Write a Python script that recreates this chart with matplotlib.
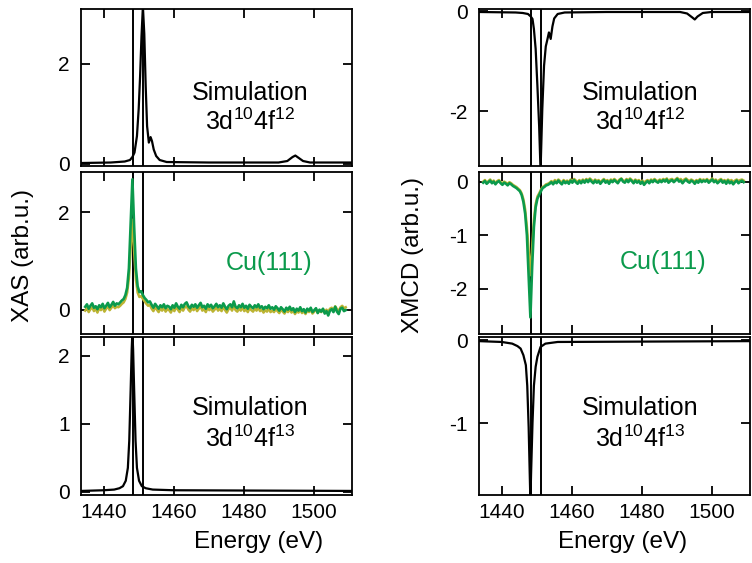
import matplotlib
matplotlib.use("Agg")
import matplotlib.pyplot as plt
import numpy as np

plt.rcParams['font.family'] = ['Liberation Sans', 'DejaVu Sans']
plt.rcParams['mathtext.fontset'] = 'custom'
plt.rcParams['mathtext.rm'] = 'Liberation Sans'
plt.rcParams['mathtext.it'] = 'Liberation Sans'
plt.rcParams['axes.unicode_minus'] = False

# experimental energy grid (eV)
e_exp = np.arange(150) * 0.5 + 1434.7

# Cu(111) XAS, green and yellow
xas_green = [0.06, 0.11, 0.02, 0.08, 0.13, 0.04, 0.07, 0.01, 0.09, 0.05,
             0.12, 0.03, 0.08, 0.14, 0.05, 0.10, 0.16, 0.08, 0.13, 0.11,
             0.15, 0.19, 0.22, 0.30, 0.45, 0.85, 1.75, 2.68, 1.70, 0.85,
             0.48, 0.36, 0.38, 0.30, 0.24, 0.20, 0.15, 0.17,
             0.10, 0.04, 0.12, 0.07, 0.02, 0.09, 0.05, 0.11, 0.03, 0.08,
             0.06, 0.01, 0.09, 0.04, 0.13, 0.06, 0.02, 0.10, 0.05, 0.12,
             0.15, 0.07, 0.03, 0.10, 0.06, 0.11, 0.04, 0.09, 0.14, 0.05,
             0.08, 0.02, 0.11, 0.06, 0.10, 0.03, 0.07, 0.12, 0.05, 0.09,
             0.04, 0.13, 0.06, 0.01, 0.08, 0.11, 0.05, 0.17, 0.06, 0.03,
             0.09, 0.05, 0.12, 0.04, 0.08, 0.02, 0.10, 0.06, 0.03, 0.09,
             0.05, 0.11, 0.04, 0.07, 0.01, 0.06, 0.03, 0.09, 0.02, 0.05,
             0.00, 0.07, 0.03, -0.02, 0.05, 0.01, -0.04, 0.04, 0.00, 0.06,
             -0.01, 0.03, -0.05, 0.02, -0.02, 0.05, -0.03, 0.01, -0.06, 0.02,
             -0.02, 0.04, -0.05, -0.01, 0.03, -0.07, 0.00, -0.04, 0.02, -0.08,
             -0.03, -0.12, -0.02, 0.01, -0.05, 0.06, -0.04, -0.09, 0.02, 0.04,
             -0.03, -0.01]
xas_yellow = [-0.02, 0.04, -0.05, 0.01, 0.05, -0.03, 0.02, -0.06, 0.03, -0.01,
              0.05, -0.04, 0.02, 0.07, -0.01, 0.04, 0.09, 0.03, 0.06, 0.05,
              0.08, 0.12, 0.15, 0.22, 0.35, 0.65, 1.25, 1.85, 1.20, 0.62,
              0.35, 0.26, 0.28, 0.22, 0.17, 0.12, 0.08, 0.10,
              0.02, -0.03, 0.05, 0.00, -0.05, 0.03, -0.02, 0.04, -0.04, 0.01,
              -0.01, -0.06, 0.03, -0.03, 0.06, 0.00, -0.05, 0.04, -0.02, 0.05,
              0.07, 0.00, -0.04, 0.03, -0.01, 0.05, -0.03, 0.02, 0.07, -0.02,
              0.01, -0.05, 0.04, -0.01, 0.03, -0.04, 0.00, 0.05, -0.02, 0.02,
              -0.03, 0.06, -0.01, -0.06, 0.01, 0.04, -0.02, 0.08, -0.01, -0.04,
              0.02, -0.02, 0.05, -0.03, 0.01, -0.05, 0.03, -0.01, -0.04, 0.02,
              -0.02, 0.04, -0.03, 0.00, -0.06, -0.01, -0.04, 0.02, -0.05, -0.02,
              -0.05, 0.01, -0.03, -0.07, 0.00, -0.04, -0.08, -0.01, -0.05, 0.01,
              -0.06, -0.02, -0.09, -0.03, -0.06, 0.00, -0.07, -0.03, -0.09, -0.02,
              -0.05, 0.00, -0.08, -0.04, 0.01, -0.06, -0.02, -0.05, 0.01, -0.04,
              0.00, -0.05, 0.02, 0.04, -0.01, 0.07, 0.01, -0.03, 0.05, 0.08,
              0.03, 0.05]

# Cu(111) XMCD, green and yellow
xmcd_green = [-0.02, 0.01, -0.04, -0.01, 0.02, -0.03, 0.00, -0.05, -0.01, 0.01,
              -0.03, -0.06, -0.02, -0.04, -0.07, -0.03, -0.05, -0.08, -0.10, -0.12,
              -0.15, -0.18, -0.25, -0.38, -0.60, -1.00, -1.75, -2.54, -1.60, -0.85,
              -0.48, -0.32, -0.25, -0.18, -0.12, -0.10, -0.07, -0.06,
              -0.04, -0.01, -0.05, 0.00, -0.03, 0.02, -0.02, -0.05, 0.01, -0.03,
              0.00, -0.04, 0.02, -0.02, 0.03, -0.01, -0.04, 0.01, -0.03, 0.02,
              -0.02, 0.03, -0.01, 0.04, 0.00, -0.03, 0.02, -0.02, 0.01, -0.04,
              0.00, 0.03, -0.02, 0.01, -0.04, 0.02, -0.01, 0.03, 0.00, -0.03,
              0.02, 0.05, 0.00, -0.02, 0.03, -0.01, 0.04, 0.01, -0.03, 0.02,
              -0.02, 0.01, -0.04, 0.00, -0.06, -0.02, 0.01, -0.03, 0.02, -0.01,
              0.03, 0.00, -0.02, 0.02, -0.01, 0.03, 0.00, 0.04, -0.02, 0.01,
              0.03, -0.01, 0.02, 0.05, 0.00, 0.02, -0.03, 0.01, 0.04, 0.00,
              -0.02, 0.02, 0.00, -0.04, 0.01, -0.02, 0.03, -0.01, 0.02, 0.00,
              0.03, -0.02, 0.01, 0.04, -0.01, 0.02, -0.03, 0.00, 0.03, -0.02,
              0.01, -0.04, 0.02, -0.03, 0.00, -0.05, -0.01, 0.02, -0.03, 0.00,
              0.02, -0.01]
xmcd_yellow = [0.00, 0.03, -0.02, 0.01, 0.04, -0.01, 0.02, -0.03, 0.01, 0.03,
               -0.01, -0.03, 0.00, -0.02, -0.04, -0.01, -0.03, -0.06, -0.08, -0.10,
               -0.13, -0.16, -0.22, -0.33, -0.52, -0.85, -1.30, -1.75, -1.25, -0.72,
               -0.42, -0.28, -0.22, -0.15, -0.10, -0.08, -0.05, -0.04,
               -0.02, 0.01, -0.02, 0.03, 0.00, 0.04, 0.01, -0.02, 0.03, 0.00,
               0.02, -0.01, 0.04, 0.01, 0.05, 0.02, -0.01, 0.03, 0.00, 0.04,
               0.01, 0.05, 0.02, 0.06, 0.03, 0.00, 0.04, 0.01, 0.03, -0.01,
               0.02, 0.05, 0.01, 0.03, -0.01, 0.04, 0.02, 0.05, 0.02, 0.00,
               0.04, 0.06, 0.02, 0.01, 0.05, 0.02, 0.06, 0.03, 0.00, 0.04,
               0.01, 0.03, -0.01, 0.02, -0.02, 0.01, 0.03, 0.00, 0.04, 0.02,
               0.05, 0.02, 0.01, 0.04, 0.02, 0.05, 0.03, 0.06, 0.01, 0.04,
               0.05, 0.02, 0.04, 0.07, 0.03, 0.05, 0.01, 0.04, 0.06, 0.03,
               0.01, 0.04, 0.02, 0.00, 0.03, 0.01, 0.05, 0.02, 0.04, 0.02,
               0.05, 0.01, 0.03, 0.06, 0.02, 0.04, 0.00, 0.03, 0.05, 0.01,
               0.03, 0.00, 0.04, 0.01, 0.03, -0.01, 0.02, 0.04, 0.01, 0.03,
               0.04, 0.02]

# simulation 3d10 4f12
e_f12_xas = [1433.5, 1442, 1446, 1447.5, 1448.2, 1448.8, 1449.5, 1450.0, 1450.4, 1450.8,
             1451.2, 1451.6, 1452.0, 1452.4, 1452.9, 1453.4, 1453.8, 1454.3, 1455.0, 1456.0,
             1458, 1470, 1490, 1492.5, 1494.0, 1494.8, 1495.6, 1497, 1499, 1511]
f12_xas = [0.01, 0.02, 0.04, 0.07, 0.13, 0.22, 0.55, 1.10, 1.75, 2.55,
           3.15, 2.60, 1.55, 0.75, 0.42, 0.53, 0.45, 0.28, 0.15, 0.07,
           0.03, 0.02, 0.02, 0.05, 0.13, 0.16, 0.12, 0.05, 0.02, 0.02]
e_f12_xmcd = [1433.5, 1444, 1446, 1447.5, 1448.3, 1448.8, 1449.2, 1449.7, 1450.2, 1450.7,
              1451.1, 1451.6, 1452.1, 1452.6, 1453.0, 1453.5, 1454.0, 1454.5, 1455.0, 1456.0,
              1458, 1470, 1491, 1493, 1494.5, 1495.2, 1496, 1497.5, 1500, 1511]
f12_xmcd = [-0.01, -0.02, -0.03, -0.05, -0.10, -0.15, -0.35, -0.75, -1.49, -2.30,
            -3.20, -1.96, -1.09, -0.70, -0.58, -0.42, -0.55, -0.30, -0.14, -0.05,
            -0.02, -0.01, -0.01, -0.04, -0.12, -0.16, -0.10, -0.03, -0.01, -0.01]

# simulation 3d10 4f13
e_f13_xas = [1433.5, 1440, 1443, 1444.5, 1445.5, 1446.3, 1446.9, 1447.3, 1447.7, 1448.0,
             1448.2, 1448.4, 1448.7, 1449.1, 1449.5, 1450.1, 1450.9, 1452, 1454, 1460, 1511]
f13_xas = [0.01, 0.02, 0.03, 0.05, 0.08, 0.16, 0.35, 0.75, 1.50, 2.10,
           2.35, 2.10, 1.50, 0.75, 0.35, 0.16, 0.08, 0.05, 0.03, 0.02, 0.01]
e_f13_xmcd = [1433.5, 1440, 1443, 1444.5, 1445.4, 1446.2, 1446.9, 1447.3, 1447.7, 1448.0,
              1448.2, 1448.4, 1448.8, 1449.2, 1449.7, 1450.2, 1451.1, 1452.5, 1456, 1511]
f13_xmcd = [-0.01, -0.02, -0.04, -0.07, -0.10, -0.18, -0.30, -0.55, -1.05, -1.60,
            -1.95, -1.60, -1.00, -0.55, -0.32, -0.20, -0.08, -0.04, -0.02, -0.01]

vlines = [1448.3, 1451.25]
green = '#0b9a4c'
yellow = '#bcb433'

fig = plt.figure(figsize=(7.52, 5.63), dpi=100)
W, H = 752, 563


def make_ax(x0, x1, y0, y1):
    ax = fig.add_axes([x0 / W, 1 - y1 / H, (x1 - x0) / W, (y1 - y0) / H])
    ax.set_xlim(1433.5, 1511)
    ax.set_xticks([1440, 1460, 1480, 1500])
    ax.tick_params(direction='in', top=True, right=True, length=6.5, width=1.3,
                   labelsize=15)
    ax.tick_params(axis='y', pad=8)
    ax.tick_params(axis='x', pad=6)
    for s in ax.spines.values():
        s.set_linewidth(1.3)
    for v in vlines:
        ax.axvline(v, color='black', lw=1.4)
    return ax


rows = [(9, 166), (172, 334), (337, 495)]
cols = [(81, 352), (479, 750)]

# left column: XAS
ax = make_ax(cols[0][0], cols[0][1], *rows[0])
ax.plot(e_f12_xas, f12_xas, color='black', lw=1.6)
ax.set_ylim(-0.05, 3.1)
ax.set_yticks([0, 2])
ax.tick_params(labelbottom=False)

ax = make_ax(cols[0][0], cols[0][1], *rows[1])
ax.plot(e_exp, xas_yellow, color=yellow, lw=1.8)
ax.plot(e_exp, xas_green, color=green, lw=1.9)
ax.set_ylim(-0.5, 2.83)
ax.set_yticks([0, 2])
ax.tick_params(labelbottom=False)

ax = make_ax(cols[0][0], cols[0][1], *rows[2])
ax.plot(e_f13_xas, f13_xas, color='black', lw=1.6)
ax.set_ylim(-0.05, 2.28)
ax.set_yticks([0, 1, 2])

# right column: XMCD
ax = make_ax(cols[1][0], cols[1][1], *rows[0])
ax.plot(e_f12_xmcd, f12_xmcd, color='black', lw=1.6)
ax.set_ylim(-3.1, 0.05)
ax.set_yticks([-2, 0])
ax.tick_params(labelbottom=False)

ax = make_ax(cols[1][0], cols[1][1], *rows[1])
ax.plot(e_exp, xmcd_yellow, color=yellow, lw=1.8)
ax.plot(e_exp, xmcd_green, color=green, lw=1.9)
ax.set_ylim(-2.85, 0.18)
ax.set_yticks([-2, -1, 0])
ax.tick_params(labelbottom=False)

ax = make_ax(cols[1][0], cols[1][1], *rows[2])
ax.plot(e_f13_xmcd, f13_xmcd, color='black', lw=1.6)
ax.set_ylim(-1.87, 0.04)
ax.set_yticks([-1, 0])


# annotations
def label(x, y, s, color='black', size=18):
    fig.text(x / W, 1 - y / H, s, ha='center', va='baseline', fontsize=size, color=color)


for cx in (250, 640):
    label(cx, 100, 'Simulation')
    label(cx, 130, r'3d$^{10}$4f$^{12}$')
    label(cx, 415, 'Simulation')
    label(cx, 447, r'3d$^{10}$4f$^{13}$')
label(269, 270, 'Cu(111)', green)
label(663, 269, 'Cu(111)', green)

label(259, 548, 'Energy (eV)', size=17.5)
label(623, 548, 'Energy (eV)', size=17.5)
fig.text(23 / W, 1 - 255 / H, 'XAS (arb.u.)', rotation=90, ha='center', va='center', fontsize=17.5)
fig.text(413 / W, 1 - 255 / H, 'XMCD (arb.u.)', rotation=90, ha='center', va='center', fontsize=17.5)

fig.savefig('out.png', dpi=100)
